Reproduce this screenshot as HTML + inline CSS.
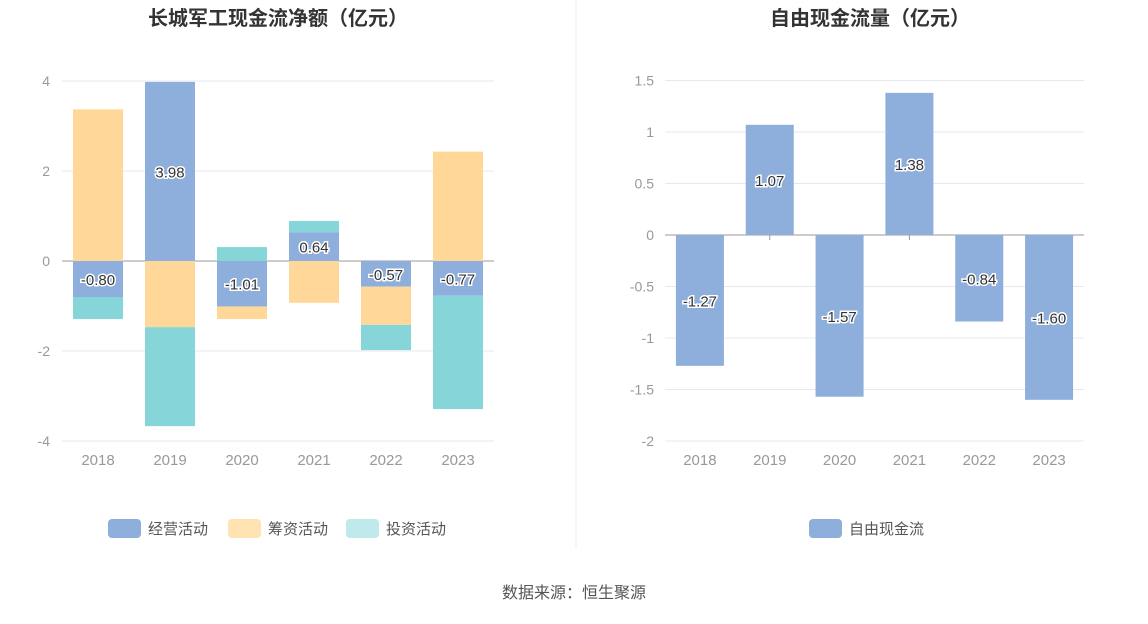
<!DOCTYPE html>
<html><head><meta charset="utf-8"><style>
body{margin:0;background:#fff;font-family:"Liberation Sans","Noto Sans CJK SC",sans-serif;}
svg text{font-family:"Liberation Sans","Noto Sans CJK SC",sans-serif;}
</style></head><body>
<svg id="s" width="1148" height="619" xmlns="http://www.w3.org/2000/svg">
<rect width="1148" height="619" fill="#fff"/>
<line x1="576" y1="0" x2="576" y2="548" stroke="#eee"/>
<text x="278" y="25" text-anchor="middle" font-size="20" font-weight="bold" fill="#333">长城军工现金流净额（亿元）</text>
<text x="870" y="25" text-anchor="middle" font-size="20" font-weight="bold" fill="#333">自由现金流量（亿元）</text>
<text x="574" y="598" text-anchor="middle" font-size="16" fill="#555">数据来源：恒生聚源</text>
<g id="L"></g><g id="R"></g>
</svg>
<script>
const years=['2018','2019','2020','2021','2022','2023'];
const opVals=[-0.80,3.98,-1.01,0.64,-0.57,-0.77];
const finVals=[3.37,-1.47,-0.28,-0.93,-0.85,2.43];
const invVals=[-0.49,-2.20,0.31,0.25,-0.56,-2.52];
const leftTicks=[4,2,0,-2,-4];
const fcfVals=[-1.27,1.07,-1.57,1.38,-0.84,-1.60];
const rightTicks=[1.5,1,0.5,0,-0.5,-1,-1.5,-2];
const NS='http://www.w3.org/2000/svg';
function mk(p,t,a,txt){const e=document.createElementNS(NS,t);for(const k in a)e.setAttribute(k,a[k]);if(txt!=null)e.textContent=txt;p.appendChild(e);return e;}
const L=document.getElementById('L'),R=document.getElementById('R');
// left
const ly=v=>261-v*45, lx0=62,lx1=494,lstep=(lx1-lx0)/6;
leftTicks.forEach(t=>{
 const g=mk(L,'line',{x1:lx0,x2:lx1,y1:ly(t),y2:ly(t),stroke:t===0?'#999':'#e6e8f0'});
 
 const tx=mk(L,'text',{x:50,y:ly(t)+5,'text-anchor':'end','font-size':14,fill:'#999'},String(t));
 
});
const series=[[opVals,'#8eaedb','op'],[finVals,'#ffd899','fin'],[invVals,'#86d6d9','inv']];
years.forEach((y,i)=>{
 const cx=lx0+lstep*(i+0.5);let pos=0,neg=0;
 series.forEach(([vals,c,n])=>{const v=vals[i];let a,b;
  if(v>=0){a=pos;b=pos+v;pos=b;}else{a=neg;b=neg+v;neg=b;}
  const r=mk(L,'rect',{x:cx-25,width:50,y:Math.min(ly(a),ly(b)),height:Math.abs(ly(a)-ly(b)),fill:c});
  
 });
 const v=opVals[i];
 const lb=mk(L,'text',{x:cx,y:ly(v/2)+6,'text-anchor':'middle','font-size':15,fill:'#333',stroke:'#fff','stroke-width':3,'paint-order':'stroke'},v.toFixed(2));
 
 const xt=mk(L,'text',{x:cx,y:465,'text-anchor':'middle','font-size':15,fill:'#999'},y);
 
});
const leg=[['经营活动','#8eaedb',108],['筹资活动','#ffe3b3',228],['投资活动','#c0e9eb',346]];
leg.forEach(([t,c,x])=>{
 const r=mk(L,'rect',{x:x,y:519,width:33,height:19,rx:4,fill:c});
 const tx=mk(L,'text',{x:x+40,y:534,'font-size':15,fill:'#555'},t);
});
// right
const ry=v=>235-v*103, rx0=665,rx1=1084,rstep=(rx1-rx0)/6;
rightTicks.forEach(t=>{
 const g=mk(R,'line',{x1:rx0,x2:rx1,y1:ry(t),y2:ry(t),stroke:t===0?'#999':'#e6e8f0'});
 
 const tx=mk(R,'text',{x:654,y:ry(t)+5,'text-anchor':'end','font-size':14,fill:'#999'},String(t));
 
});
years.forEach((y,i)=>{
 const cx=rx0+rstep*(i+0.5),v=fcfVals[i];
 const tk=mk(R,'line',{x1:cx,x2:cx,y1:235,y2:240,stroke:'#999'});
 const r=mk(R,'rect',{x:cx-24,width:48,y:Math.min(ry(0),ry(v)),height:Math.abs(ry(v)-ry(0)),fill:'#8eaedb'});
 
 const lb=mk(R,'text',{x:cx,y:ry(v/2)+6,'text-anchor':'middle','font-size':15,fill:'#333',stroke:'#fff','stroke-width':3,'paint-order':'stroke'},v.toFixed(2));
 
 const xt=mk(R,'text',{x:cx,y:465,'text-anchor':'middle','font-size':15,fill:'#999'},y);
 
});
const r2=mk(R,'rect',{x:809,y:519,width:33,height:19,rx:4,fill:'#8eaedb'});
const t2=mk(R,'text',{x:849,y:534,'font-size':15,fill:'#555'},'自由现金流');
</script>
</body></html>
